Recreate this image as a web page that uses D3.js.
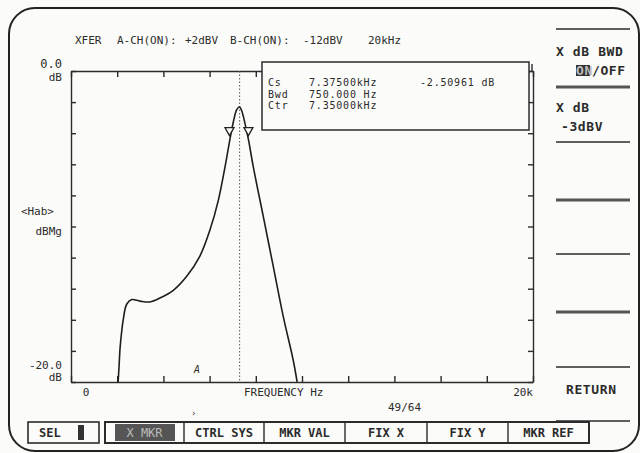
<!DOCTYPE html>
<meta charset="utf-8">
<style>
body { margin: 0; background: #fbfbf9; }
svg text { font-family: "DejaVu Sans Mono", monospace; fill: #2b2b2b; font-size: 11px; }
.axis path, .axis line { fill: none; stroke: #2b2b2b; stroke-width: 1.4; }
.key { font-weight: bold; font-size: 12px; }
.soft { font-weight: bold; font-size: 13px; letter-spacing: 0.6px; }
.read { font-size: 10px; letter-spacing: 0.8px; }
</style>
<body>
<script src="https://cdnjs.cloudflare.com/ajax/libs/d3/7.8.5/d3.min.js"></script>
<script>

// transfer function trace
var freqHz  = [2040, 2080, 2120, 2190, 2260, 2410, 2630, 2990, 3420, 3850, 4430, 5010, 5580, 6020, 6380,
               6670, 6880, 7030, 7170, 7290, 7400, 7530, 7680, 7890, 8330, 8760, 9190, 9620, 9790];
var levelDb = [-20, -19.0, -17.9, -16.8, -16.0, -15.0, -14.7, -14.8, -14.85, -14.6, -14.1, -13.2, -11.9, -10.2, -8.3,
               -6.15, -4.4, -3.26, -2.5, -2.3, -2.6, -3.37, -4.4, -6.15, -9.4, -12.6, -15.8, -18.6, -20];

var freqTicks = [0, 2000, 4000, 6000, 8000, 10000, 12000, 14000, 16000, 18000, 20000];
var dbTicks = [0, -2, -4, -6, -8, -10, -12, -14, -16, -18, -20];

var ctrFreq = 7300;                 // dotted centre line
var bwdFreqs = [6860, 7680];        // -3 dB markers
var bwdDb = [-3.9, -3.9];
var cursorFreq = 5450;              // small cursor glyph on the baseline

var headerText = ["XFER", "A-CH(ON):", "+2dBV", "B-CH(ON):", "-12dBV", "20kHz"];
var readLabels = ["Cs", "Bwd", "Ctr"];
var readValues = ["7.37500kHz", "750.000 Hz", "7.35000kHz"];
var csLevel = "-2.50961 dB";
var fnKeys = ["X MKR", "CTRL SYS", "MKR VAL", "FIX X", "FIX Y", "MKR REF"];
var pageCount = "49/64";

// layout
var W = 640, H = 453;
var plot = {left: 71, right: 533, top: 71, bottom: 382};
var headerX = [75, 117, 185, 230, 303, 368];

var svg = d3.select("body").append("svg")
    .attr("width", W)
    .attr("height", H);

// outer bezel
svg.append("rect")
    .attr("x", 9).attr("y", 8)
    .attr("width", 630).attr("height", 443)
    .attr("rx", 26)
    .attr("fill", "none")
    .attr("stroke", "#222")
    .attr("stroke-width", 2);

var x = d3.scaleLinear().domain([0, 20000]).range([plot.left, plot.right]);
var y = d3.scaleLinear().domain([-20, 0]).range([plot.bottom, plot.top]);

// header line
svg.selectAll(".hdr")
    .data(headerText)
    .enter().append("text")
    .attr("class", "hdr")
    .attr("x", function(d, i) { return headerX[i]; })
    .attr("y", 44)
    .text(function(d) { return d; });

// frame with inward ticks on all four sides
svg.append("g").attr("class", "axis")
    .attr("transform", "translate(0," + plot.bottom + ")")
    .call(d3.axisBottom(x).tickValues(freqTicks).tickSizeInner(-6).tickSizeOuter(0).tickFormat(""));
svg.append("g").attr("class", "axis")
    .attr("transform", "translate(0," + plot.top + ")")
    .call(d3.axisTop(x).tickValues(freqTicks).tickSizeInner(-6).tickSizeOuter(0).tickFormat(""));
svg.append("g").attr("class", "axis")
    .attr("transform", "translate(" + plot.left + ",0)")
    .call(d3.axisLeft(y).tickValues(dbTicks).tickSizeInner(-5).tickSizeOuter(0).tickFormat(""));
svg.append("g").attr("class", "axis")
    .attr("transform", "translate(" + plot.right + ",0)")
    .call(d3.axisRight(y).tickValues(dbTicks).tickSizeInner(-5).tickSizeOuter(0).tickFormat(""));

// y labels
function yLabel(txt, xp, yp, size) {
    svg.append("text")
        .attr("x", xp).attr("y", yp)
        .attr("text-anchor", "end")
        .style("font-size", size + "px")
        .text(txt);
}
yLabel("0.0", 62, 68, 12);
yLabel("dB", 62, 81, 11);
yLabel("<Hab>", 54, 215, 11);
yLabel("dBMg", 62, 235, 11);
yLabel("-20.0", 62, 369, 11);
yLabel("dB", 62, 381, 11);

// x labels
svg.append("text").attr("x", x(0) + 15).attr("y", 396).attr("text-anchor", "middle").text("0");
svg.append("text").attr("x", x(20000)).attr("y", 396).attr("text-anchor", "end").text("20k");
svg.append("text").attr("x", 244).attr("y", 396).text("FREQUENCY Hz");
svg.append("text").attr("x", 388).attr("y", 411).text(pageCount);
svg.append("text").attr("x", x(cursorFreq) - 6).attr("y", 416)
    .style("font-size", "9px").attr("fill", "#777").text("\u203a");
svg.append("text").attr("x", x(cursorFreq)).attr("y", y(-19.4))
    .attr("text-anchor", "middle")
    .style("font-size", "10px").style("font-style", "italic").text("A");

// dotted centre line
svg.append("line")
    .attr("x1", x(ctrFreq)).attr("x2", x(ctrFreq))
    .attr("y1", plot.top).attr("y2", plot.bottom)
    .attr("stroke", "#555")
    .attr("stroke-width", 1)
    .attr("stroke-dasharray", "1.5,2");

// trace
var pts = freqHz.map(function(f, i) { return [f, levelDb[i]]; });
var line = d3.line()
    .x(function(d) { return x(d[0]); })
    .y(function(d) { return y(d[1]); })
    .curve(d3.curveCatmullRom.alpha(0.5));
svg.append("path")
    .datum(pts)
    .attr("d", line)
    .attr("fill", "none")
    .attr("stroke", "#1e1e1e")
    .attr("stroke-width", 1.6);

// -3 dB bandwidth markers (down-pointing triangles)
svg.selectAll(".mk")
    .data(bwdFreqs)
    .enter().append("path")
    .attr("class", "mk")
    .attr("d", function(f, i) {
        var cx = x(f), cy = y(bwdDb[i]);
        return "M" + (cx - 4.5) + "," + (cy - 4) + "L" + (cx + 4.5) + "," + (cy - 4) + "L" + cx + "," + (cy + 4) + "Z";
    })
    .attr("fill", "#fbfbf9")
    .attr("stroke", "#222")
    .attr("stroke-width", 1.3);

// marker readout box
var box = {x: 262, y: 62, w: 267, h: 68};
svg.append("line")
    .attr("x1", plot.right - 1).attr("x2", plot.right - 1)
    .attr("y1", box.y + 2).attr("y2", plot.top)
    .attr("stroke", "#2b2b2b").attr("stroke-width", 1.4);
svg.append("rect")
    .attr("x", box.x).attr("y", box.y)
    .attr("width", box.w).attr("height", box.h)
    .attr("fill", "#fbfbf9")
    .attr("stroke", "#2b2b2b")
    .attr("stroke-width", 1.5);
svg.selectAll(".rl")
    .data(readLabels)
    .enter().append("text")
    .attr("class", "read")
    .attr("x", box.x + 6)
    .attr("y", function(d, i) { return 86 + i * 11.5; })
    .text(function(d) { return d; });
svg.selectAll(".rv")
    .data(readValues)
    .enter().append("text")
    .attr("class", "read")
    .attr("x", box.x + 47)
    .attr("y", function(d, i) { return 86 + i * 11.5; })
    .text(function(d) { return d; });
svg.append("text").attr("class", "read").attr("x", 420).attr("y", 86).text(csLevel);

// soft key column on the right
var sepY = [29, 87, 142, 200, 254, 312, 367, 421];
var thick = [false, true, false, true, false, true, false, false];
svg.selectAll(".sep")
    .data(sepY)
    .enter().append("line")
    .attr("x1", 556).attr("x2", 630)
    .attr("y1", function(d) { return d; }).attr("y2", function(d) { return d; })
    .attr("stroke", function(d, i) { return thick[i] ? "#555" : "#2b2b2b"; })
    .attr("stroke-width", function(d, i) { return thick[i] ? 3 : 1.4; });

svg.append("text").attr("class", "soft").attr("x", 556).attr("y", 56).text("X dB BWD");
svg.append("rect").attr("x", 576).attr("y", 65).attr("width", 14).attr("height", 11).attr("fill", "#333");
svg.append("text").attr("class", "soft").attr("x", 576).attr("y", 75).style("fill", "#bbb").text("ON");
svg.append("text").attr("class", "soft").attr("x", 592).attr("y", 75).text("/OFF");
svg.append("text").attr("class", "soft").attr("x", 556).attr("y", 112).text("X dB");
svg.append("text").attr("class", "soft").attr("x", 561).attr("y", 131).text("-3dBV");
svg.append("text").attr("class", "soft").attr("x", 566).attr("y", 394).text("RETURN");

// bottom function key row
var keyTop = 422, keyH = 21;
svg.append("rect")
    .attr("x", 28).attr("y", keyTop).attr("width", 71).attr("height", keyH)
    .attr("fill", "none").attr("stroke", "#2b2b2b").attr("stroke-width", 1.6);
svg.append("text").attr("class", "key").attr("x", 39).attr("y", keyTop + 15).text("SEL");
svg.append("rect").attr("x", 78).attr("y", keyTop + 3).attr("width", 6).attr("height", 15).attr("fill", "#333");

var keyX = [105, 184, 264, 345, 427, 508, 589];
svg.append("rect")
    .attr("x", keyX[0]).attr("y", keyTop).attr("width", keyX[6] - keyX[0]).attr("height", keyH)
    .attr("fill", "none").attr("stroke", "#2b2b2b").attr("stroke-width", 2);
svg.selectAll(".kdiv")
    .data(keyX.slice(1, 6))
    .enter().append("line")
    .attr("x1", function(d) { return d; }).attr("x2", function(d) { return d; })
    .attr("y1", keyTop).attr("y2", keyTop + keyH)
    .attr("stroke", "#2b2b2b").attr("stroke-width", 1.4);
svg.append("rect")
    .attr("x", 115).attr("y", keyTop + 2).attr("width", 60).attr("height", keyH - 4)
    .attr("fill", "#555");
svg.selectAll(".fk")
    .data(fnKeys)
    .enter().append("text")
    .attr("class", "key")
    .attr("x", function(d, i) { return (keyX[i] + keyX[i + 1]) / 2; })
    .attr("y", keyTop + 15)
    .attr("text-anchor", "middle")
    .style("fill", function(d, i) { return i === 0 ? "#bbb" : "#2b2b2b"; })
    .style("font-weight", function(d, i) { return i === 0 ? "normal" : "bold"; })
    .text(function(d) { return d; });

</script>
